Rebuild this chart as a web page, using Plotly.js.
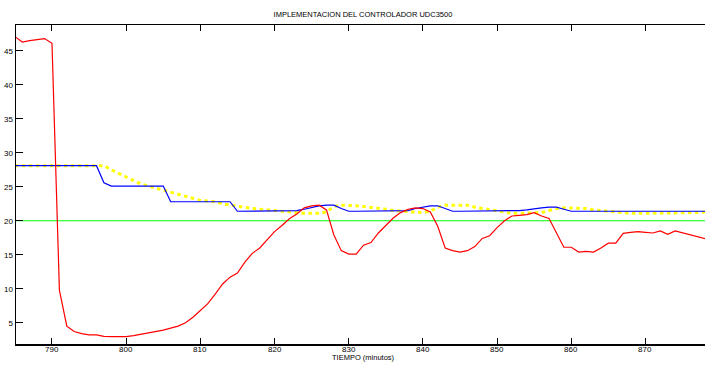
<!DOCTYPE html>
<html><head><meta charset="utf-8">
<script src="https://cdn.plot.ly/plotly-3.0.1.min.js"></script>
<style>html,body{margin:0;padding:0;overflow:hidden;background:#fff;width:705px;height:365px}#c{width:711px;height:365px}</style>
</head><body><div id="c"></div>
<script>
const tiempo = [785,786,787,788,789,790,791,792,793,794,795,796,797,798,799,800,801,802,803,804,805,806,807,808,809,810,811,812,813,814,815,816,817,818,819,820,821,822,823,824,825,826,827,828,829,830,831,832,833,834,835,836,837,838,839,840,841,842,843,844,845,846,847,848,849,850,851,852,853,854,855,856,857,858,859,860,861,862,863,864,865,866,867,868,869,870,871,872,873,874,875,876,877,878,879];
const temperatura = [47.1,46.3,46.5,46.6,46.8,46.1,9.8,4.5,3.7,3.4,3.2,3.2,3.0,2.95,2.9,2.95,3.1,3.3,3.4,3.7,3.9,4.2,4.5,5.0,5.8,6.8,7.8,9.2,10.7,11.7,12.3,13.9,15.2,16.0,17.2,18.4,19.3,20.3,21.0,21.9,22.2,22.3,21.6,17.9,15.6,15.1,15.1,16.4,16.8,18.2,19.3,20.4,21.2,21.7,21.9,21.8,21.3,19.2,16.0,15.6,15.4,15.6,16.2,17.4,17.8,19.0,20.0,20.7,20.8,20.9,21.2,20.7,20.35,18.2,16.1,16.1,15.4,15.5,15.4,16.0,16.7,16.7,18.15,18.3,18.4,18.3,18.2,18.5,18.0,18.5,18.2,18.0,17.6,17.3,17.1];
const salidaAzul = [28.1,28.1,28.1,28.1,28.1,28.1,28.1,28.1,28.1,28.1,28.1,28.1,25.6,25.1,25.1,25.1,25.1,25.1,25.1,25.1,25.1,22.8,22.8,22.8,22.8,22.8,22.8,22.8,22.8,22.8,21.4,21.4,21.4,21.4,21.4,21.4,21.4,21.4,21.5,21.7,22.0,22.2,22.3,22.3,21.8,21.4,21.4,21.4,21.4,21.4,21.4,21.4,21.4,21.5,21.8,22.0,22.2,22.2,21.8,21.4,21.4,21.4,21.4,21.4,21.4,21.4,21.4,21.4,21.5,21.6,21.8,21.9,22.0,22.0,21.7,21.4,21.4,21.4,21.4,21.4,21.4,21.4,21.4,21.4,21.4,21.4,21.4,21.4,21.4,21.4,21.4,21.4,21.4,21.4,21.4];
const salidaAmarilla = [28.1,28.1,28.1,28.1,28.1,28.1,28.1,28.1,28.1,28.1,28.1,28.1,28.1,27.5,27.0,26.5,25.9,25.4,25.1,24.8,24.4,24.1,23.8,23.5,23.2,23.0,22.9,22.8,22.5,22.3,22.2,22.0,21.8,21.7,21.6,21.4,21.3,21.2,21.2,21.1,21.1,21.1,21.3,22.1,22.3,22.3,22.2,22.1,22.0,21.8,21.7,21.5,21.4,21.3,21.2,21.2,21.4,22.0,22.3,22.3,22.3,22.3,22.0,21.8,21.6,21.4,21.2,21.1,21.1,21.1,21.1,21.2,21.5,21.8,21.9,21.9,21.9,21.8,21.6,21.5,21.3,21.2,21.2,21.1,21.1,21.1,21.1,21.1,21.1,21.1,21.1,21.1,21.2,21.3,21.3];
const setpointT = [785, 879];
const setpoint = [20, 20];
const xTicks = [790,800,810,820,830,840,850,860,870];
const yTicks = [5,10,15,20,25,30,35,40,45];

const F = 'Liberation Sans, Arial, sans-serif';
const data = [
  {x: setpointT, y: setpoint, mode:'lines', line:{color:'#00ff00', width:1.2}, hoverinfo:'skip'},
  {x: tiempo, y: salidaAmarilla, mode:'lines', line:{color:'#ffff00', width:3, dash:'3.5px,3.5px'}, hoverinfo:'skip'},
  {x: tiempo, y: salidaAzul, mode:'lines', line:{color:'#0000ff', width:1.2}, hoverinfo:'skip'},
  {x: tiempo, y: temperatura, mode:'lines', line:{color:'#ff0000', width:1.2}, hoverinfo:'skip'}
];
const tickAnnotations = xTicks.map(v => ({
  text:String(v), xref:'x', yref:'paper', x:v, y:0, xanchor:'center', yanchor:'middle', yshift:-5.5,
  showarrow:false, font:{family:F, size:8, color:'#000'}
}));
const layout = {
  width: 711, height: 365,
  margin: {l:16, r:1, t:25, b:21, pad:0},
  paper_bgcolor:'#fff', plot_bgcolor:'#fff',
  showlegend:false,
  title: {text:'IMPLEMENTACION DEL CONTROLADOR UDC3500', font:{family:F, size:7.5, color:'#000'}, x:0.5, xref:'paper', y:0.96, yref:'container', yanchor:'middle'},
  xaxis: {range:[785.15, 878.7], tickvals:xTicks, ticks:'inside', ticklen:6, tickwidth:1, tickcolor:'#000',
    showline:true, linecolor:'#000', linewidth:1.5, mirror:'ticks', showgrid:false, zeroline:false,
    showticklabels:false},
  yaxis: {range:[1.87, 48.8], tickvals:yTicks, ticktext:yTicks.map(String), ticks:'inside', ticklen:7, tickwidth:1, tickcolor:'#000',
    showline:true, linecolor:'#000', linewidth:1.5, mirror:false, showgrid:false, zeroline:false,
    tickfont:{family:F, size:8, color:'#000'}},
  annotations: tickAnnotations.concat([
    {text:'TIEMPO (minutos)', xref:'paper', yref:'paper', x:0.5, y:0, xanchor:'center', yanchor:'middle', yshift:-13.8, showarrow:false, font:{family:F, size:7.5, color:'#000'}}
  ])
};
Plotly.newPlot('c', data, layout, {staticPlot:true, displayModeBar:false});
</script></body></html>
